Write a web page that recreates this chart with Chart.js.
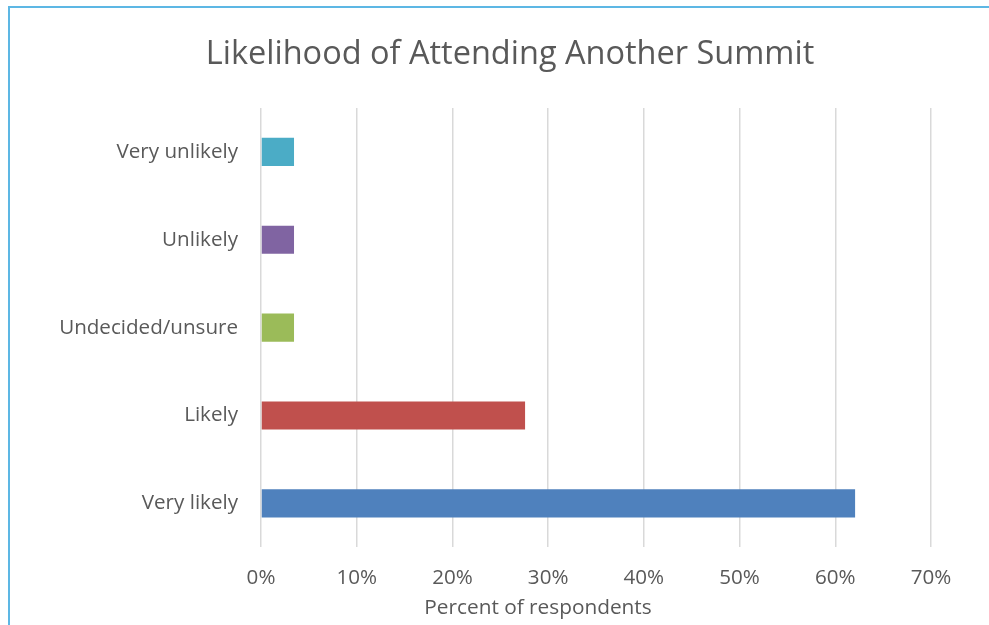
<!DOCTYPE html>
<html>
<head>
<meta charset="utf-8">
<script src="https://cdn.jsdelivr.net/npm/chart.js@4/dist/chart.umd.min.js"></script>
<style>
  html, body { margin: 0; padding: 0; overflow: hidden; background: #fff; }
  #wrap { position: absolute; left: 8px; top: 6px; width: 1000px; height: 640px; border: 2px solid #5DB7E4; background: #fff; }
  canvas { display: block; }
</style>
</head>
<body>
<div id="wrap"><canvas id="c" width="1000" height="640"></canvas></div>
<script>
const categories = ["Very unlikely", "Unlikely", "Undecided/unsure", "Likely", "Very likely"];
const values = [3.45, 3.45, 3.45, 27.59, 62.07];
const barColors = ["#4BACC6", "#8064A2", "#9BBB59", "#C0504D", "#4F81BD"];
const xTickMax = 70;
const xTickStep = 10;
const chartTitle = "Likelihood of Attending Another Summit";
const xAxisTitle = "Percent of respondents";

const FONT = "'Open Sans', sans-serif";
const TXT = "#595959";
const TICK_SIZE = 20.6;

const axisTitlePlugin = {
  id: 'axisTitlePlugin',
  afterDraw(chart) {
    const ctx = chart.ctx;
    ctx.save();
    ctx.font = "20.8px " + FONT;
    ctx.fillStyle = TXT;
    ctx.textAlign = 'center';
    ctx.textBaseline = 'middle';
    ctx.fillText(xAxisTitle, 528, 600);
    ctx.restore();
  }
};

new Chart(document.getElementById('c'), {
  type: 'bar',
  data: {
    labels: categories,
    datasets: [{
      data: values,
      backgroundColor: barColors,
      borderWidth: 0,
      categoryPercentage: 1.0,
      barPercentage: 0.32
    }]
  },
  options: {
    indexAxis: 'y',
    responsive: false,
    animation: false,
    layout: { padding: { left: 0, right: 0, top: 0, bottom: 40 } },
    plugins: {
      legend: { display: false },
      tooltip: { enabled: false },
      title: {
        display: true,
        text: chartTitle,
        color: TXT,
        font: { family: FONT, size: 32.5, weight: 'normal' },
        padding: { top: 27, bottom: 34 }
      }
    },
    scales: {
      x: {
        min: 0,
        max: xTickMax,
        ticks: {
          stepSize: xTickStep,
          color: TXT,
          font: { family: FONT, size: TICK_SIZE },
          padding: 18,
          callback: v => v + '%'
        },
        grid: { color: '#D9D9D9', lineWidth: 1.5, drawTicks: false },
        border: { display: false },
        afterFit(scale) { scale.paddingRight = 79; }
      },
      y: {
        ticks: {
          color: TXT,
          font: { family: FONT, size: TICK_SIZE },
          padding: 23
        },
        grid: { display: false, drawTicks: false },
        border: { display: false },
        afterFit(scale) { scale.width = 251; }
      }
    }
  },
  plugins: [axisTitlePlugin]
});
</script>
</body>
</html>
